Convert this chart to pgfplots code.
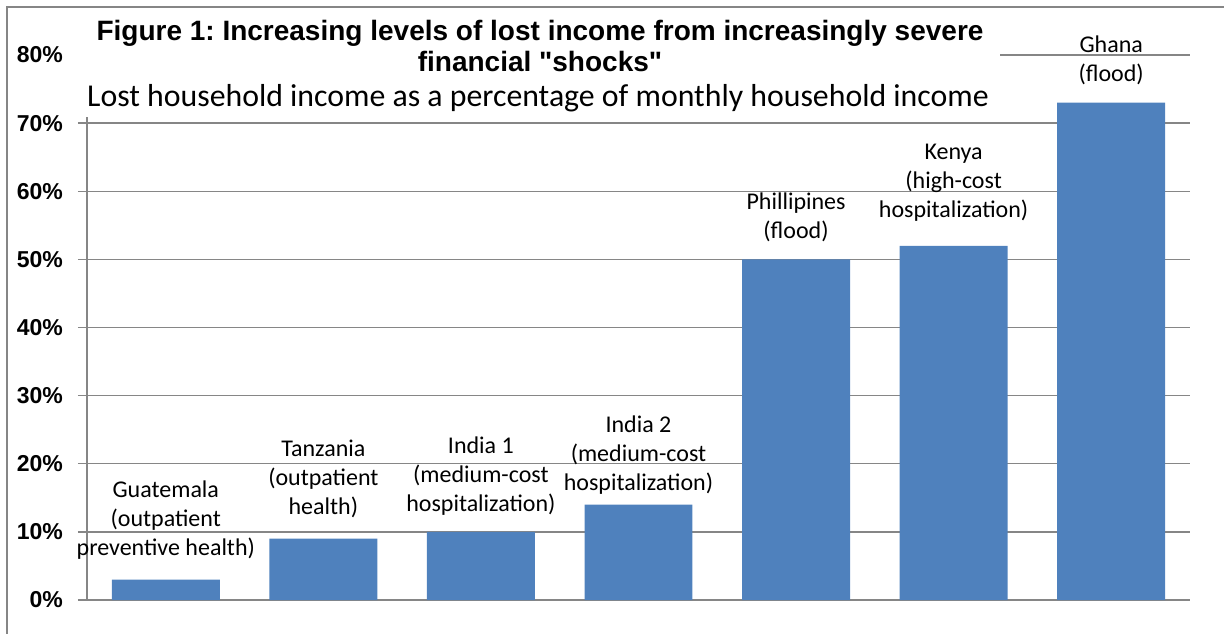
\documentclass[border=0pt]{standalone}
\usepackage{fontspec}
\setmainfont{Carlito}
\newfontfamily\arial{Liberation Sans}
\usepackage{pgfplots}
\usepackage{pgfplotstable}
\pgfplotsset{compat=1.18}
\definecolor{barblue}{HTML}{4F81BD}
\definecolor{gridgray}{HTML}{868686}
\frenchspacing

\pgfplotstableread[col sep=comma]{
x,y,off,label
0,3,20,{Guatemala\\(outpatient\\preventive health)}
1,9,21,{Tanzania\\(outpatient\\health)}
2,10,16,{India 1\\(medium-cost\\hospitalization)}
3,14,10,{India 2\\(medium-cost\\hospitalization)}
4,50,17,{Phillipines\\(flood)}
5,52,24,{Kenya\\(high-cost\\hospitalization)}
6,73,18,{Ghana\\(flood)}
}\datatable

\begin{document}
\begin{tikzpicture}
\path[use as bounding box] (0,0) rectangle (1224bp,634bp);
\begin{axis}[
  at={(87bp,34bp)}, anchor=south west,
  scale only axis, width=1103bp, height=545bp,
  xmin=-0.5, xmax=6.5, ymin=0, ymax=80,
  clip=false,
  axis x line*=bottom, axis y line*=left,
  axis line style={gridgray, line width=1.3bp},
  xtick=\empty,
  ytick={0,10,20,30,40,50,60,70,80},
  yticklabels={0\%,10\%,20\%,30\%,40\%,50\%,60\%,70\%,80\%},
  yticklabel style={anchor=east, inner sep=0pt, xshift=-15bp, font=\arial\bfseries\fontsize{23bp}{26bp}\selectfont},
  tick align=outside, major tick length=9bp,
  y tick style={gridgray, line width=1.3bp},
  ymajorgrids,
  grid style={gridgray, line width=1.3bp},
  ybar, bar width=0.685,
  point meta=explicit symbolic,
  nodes near coords,
  nodes near coords align={anchor=south},
  visualization depends on={\thisrow{off}\as\labeloff},
  every node near coord/.append style={anchor=south, align=center, inner sep=0pt,
    yshift=\labeloff bp, text=black, font=\fontsize{24bp}{29bp}\selectfont},
]
\addplot[fill=barblue, draw=none] table[x=x, y=y, meta=label] {\datatable};
\end{axis}
\fill[white] (70bp,517bp) rectangle (1000bp,625bp);
\node[font=\arial\bfseries\fontsize{28bp}{31bp}\selectfont, align=center] at (540bp,588bp)
  {Figure 1: Increasing levels of lost income from increasingly severe\\financial "shocks"};
\node[font=\fontsize{31.8bp}{36bp}\selectfont] at (538bp,536bp)
  {Lost household income as a percentage of monthly household income};
\draw[gridgray, line width=1.5bp] (7bp,-2bp) -- (7bp,627bp) -- (1226bp,627bp);
\end{tikzpicture}
\end{document}
